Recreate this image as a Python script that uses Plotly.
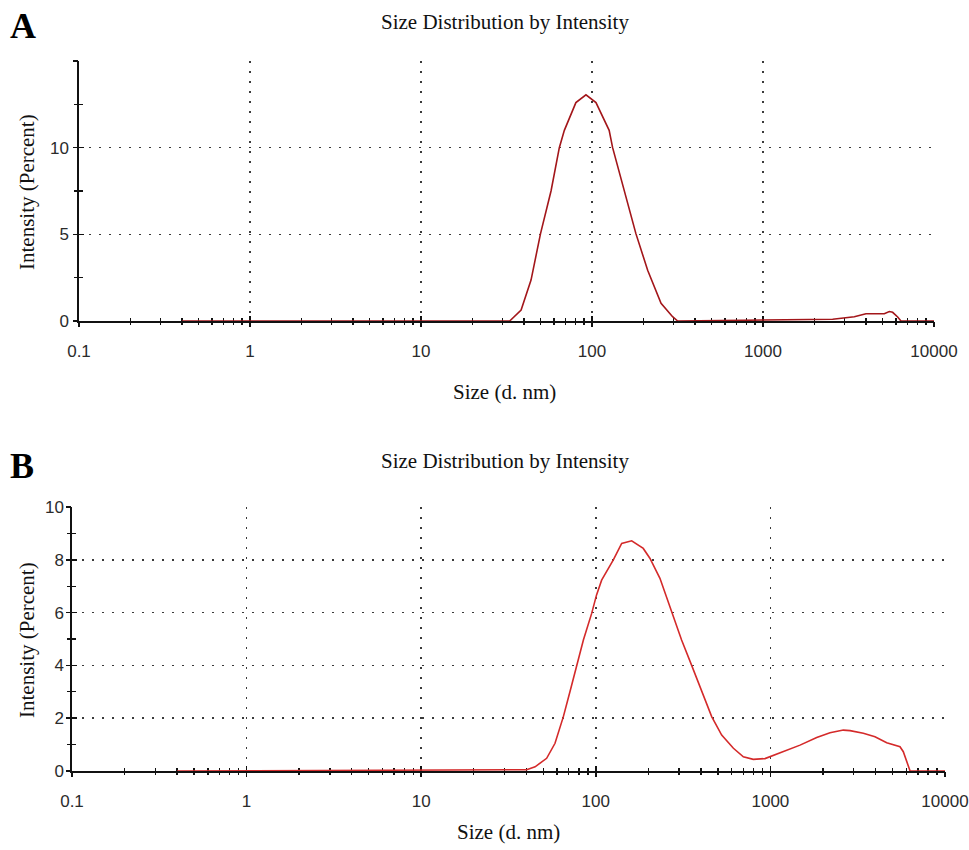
import plotly.graph_objects as go

# ---------------- Data ----------------
# Panel A: Size Distribution by Intensity (size in d.nm, intensity in %)
size_a = [0.4, 33, 38.5, 44, 50, 57.6, 64.4, 68.9, 80.5, 92.2, 105.5, 126, 132,
          154.6, 180.6, 211.6, 253.4, 296, 317, 2555, 3420, 4000, 5120, 5480,
          5730, 6130, 6410, 10000]
intensity_a = [0, 0, 0.63, 2.36, 5.04, 7.5, 10.0, 11.0, 12.6, 13.05, 12.6, 11.0, 10.0,
               7.5, 5.04, 2.93, 1.02, 0.25, 0, 0.1, 0.25, 0.42, 0.42, 0.55,
               0.5, 0.23, 0, 0]

# Panel B
size_b = [0.4, 40.2, 44.9, 52.3, 58.4, 65.2, 71.1, 77.7, 84.9, 94.7, 101, 108, 118,
          126, 140.7, 160.5, 187, 204, 233, 272, 310, 354, 404, 461, 526, 614,
          700, 798, 931, 1017, 1186, 1478, 1842, 2195, 2617, 2858, 3405, 3972,
          4636, 5525, 5771, 6036, 6310, 10000]
intensity_b = [0, 0.05, 0.16, 0.48, 1.05, 2.06, 3.0, 4.0, 4.96, 5.97, 6.67, 7.23, 7.68,
               8.0, 8.62, 8.72, 8.43, 8.06, 7.3, 6.03, 4.96, 4.0, 3.0, 2.06, 1.36, 0.86,
               0.54, 0.44, 0.47, 0.57, 0.73, 0.98, 1.27, 1.45, 1.55, 1.53, 1.43, 1.30,
               1.07, 0.92, 0.73, 0.35, 0, 0]

x_major = [0.1, 1, 10, 100, 1000, 10000]
x_major_text = ["0.1", "1", "10", "100", "1000", "10000"]
x_minor = [m * d for d in [0.1, 1, 10, 100, 1000] for m in range(2, 10)]

ya_major = [0, 5, 10, 15]
ya_major_text = ["0", "5", "10", ""]
ya_minor = [2.5, 7.5, 12.5]

yb_major = [0, 2, 4, 6, 8, 10]
yb_major_text = ["0", "2", "4", "6", "8", "10"]
yb_minor = [1, 3, 5, 7, 9]

panel_title = "Size Distribution by Intensity"
x_title = "Size (d. nm)"
y_title = "Intensity (Percent)"

# ---------------- Layout helpers ----------------
W, H = 969, 850
SERIF = "Liberation Serif, Times New Roman, serif"
SANS = "Liberation Sans, Arial, sans-serif"
GRID = dict(showgrid=True, gridcolor="#3a3a3a", gridwidth=1.6, griddash="2px,8px")


def px_x(p):
    return p / W


def px_y(p):
    return 1 - p / H


fig = go.Figure()

panels = [
    dict(key="a", xs=size_a, ys=intensity_a, color="#a3161a",
         xdom=[px_x(79), px_x(934)], ydom=[px_y(321), px_y(61)], yr=[0, 15],
         ymaj=ya_major, ymajt=ya_major_text, ymin=ya_minor, standx=14, standy=5,
         ax=("x", "y", "x3", "y3")),
    dict(key="b", xs=size_b, ys=intensity_b, color="#d42a2a",
         xdom=[px_x(72), px_x(945)], ydom=[px_y(771), px_y(507)], yr=[0, 10],
         ymaj=yb_major, ymajt=yb_major_text, ymin=yb_minor, standx=14, standy=3,
         ax=("x2", "y2", "x4", "y4")),
]

layout = {}
for p in panels:
    xm, ym, xo, yo = p["ax"]
    xm_name = "xaxis" if xm == "x" else "xaxis" + xm[1:]
    ym_name = "yaxis" if ym == "y" else "yaxis" + ym[1:]
    xo_name = "xaxis" + xo[1:]
    yo_name = "yaxis" + yo[1:]

    # curve on main axes
    fig.add_trace(go.Scatter(x=p["xs"], y=p["ys"], mode="lines",
                             line=dict(color=p["color"], width=1.6, shape="linear"),
                             xaxis=xm, yaxis=ym, showlegend=False, hoverinfo="skip",
                             cliponaxis=False))
    # same curve on overlay axes (invisible), so overlay axes get drawn
    fig.add_trace(go.Scatter(x=p["xs"], y=p["ys"], mode="lines",
                             line=dict(color="rgba(0,0,0,0)", width=0),
                             xaxis=xo, yaxis=yo, showlegend=False, hoverinfo="skip"))

    xr = [-1, 4]
    layout[xm_name] = dict(
        type="log", range=xr, domain=p["xdom"], anchor=ym, automargin=False,
        tickmode="array", tickvals=x_major, ticktext=x_major_text,
        ticks="inside", ticklen=5, tickwidth=1.5, tickcolor="#111",
        showline=True, linecolor="#111", linewidth=1.6, layer="below traces",
        tickfont=dict(family=SANS, size=17, color="#2b2b2b"),
        ticklabelstandoff=p["standx"],
        zeroline=False, **GRID,
        minor=dict(tickmode="array", tickvals=x_minor, ticks="inside", ticklen=3,
                   tickwidth=1.4, tickcolor="#111", showgrid=False),
        fixedrange=True,
    )
    layout[xo_name] = dict(
        type="log", range=xr, domain=p["xdom"], anchor=yo, overlaying=xm, automargin=False,
        tickmode="array", tickvals=x_major, showticklabels=False,
        ticks="outside", ticklen=5, tickwidth=1.5, tickcolor="#111",
        showline=False, showgrid=False, zeroline=False,
        minor=dict(tickmode="array", tickvals=x_minor, ticks="outside", ticklen=3,
                   tickwidth=1.4, tickcolor="#111", showgrid=False),
        fixedrange=True,
    )
    layout[ym_name] = dict(
        range=p["yr"], domain=p["ydom"], anchor=xm, automargin=False,
        tickmode="array", tickvals=p["ymaj"], ticktext=p["ymajt"],
        ticks="inside", ticklen=5, tickwidth=1.5, tickcolor="#111",
        showline=True, linecolor="#111", linewidth=1.6, layer="below traces",
        tickfont=dict(family=SANS, size=17, color="#2b2b2b"),
        ticklabelstandoff=p["standy"],
        zeroline=False, **GRID,
        minor=dict(tickmode="array", tickvals=p["ymin"], ticks="inside", ticklen=4,
                   tickwidth=1.4, tickcolor="#111", showgrid=False),
        fixedrange=True,
    )
    layout[yo_name] = dict(
        range=p["yr"], domain=p["ydom"], anchor=xo, overlaying=ym, side="left",
        automargin=False,
        tickmode="array", tickvals=p["ymaj"], showticklabels=False,
        ticks="outside", ticklen=5, tickwidth=1.5, tickcolor="#111",
        showline=False, showgrid=False, zeroline=False,
        minor=dict(tickmode="array", tickvals=p["ymin"], ticks="outside", ticklen=4,
                   tickwidth=1.4, tickcolor="#111", showgrid=False),
        fixedrange=True,
    )

annotations = [
    # panel letters
    dict(text="<b>A</b>", x=px_x(23), y=px_y(26), font=dict(family=SERIF, size=36, color="#000")),
    dict(text="<b>B</b>", x=px_x(22), y=px_y(466), font=dict(family=SERIF, size=36, color="#000")),
    # titles
    dict(text=panel_title, x=px_x(505), y=px_y(22), font=dict(family=SERIF, size=21, color="#111")),
    dict(text=panel_title, x=px_x(505), y=px_y(461), font=dict(family=SERIF, size=21, color="#111")),
    # x titles
    dict(text=x_title, x=px_x(504), y=px_y(392), font=dict(family=SERIF, size=21, color="#111")),
    dict(text=x_title, x=px_x(508), y=px_y(832), font=dict(family=SERIF, size=21, color="#111")),
    # y titles
    dict(text=y_title, x=px_x(27), y=px_y(192), textangle=-90, font=dict(family=SERIF, size=21, color="#111")),
    dict(text=y_title, x=px_x(27), y=px_y(640), textangle=-90, font=dict(family=SERIF, size=21, color="#111")),
]
for a in annotations:
    a.update(xref="paper", yref="paper", showarrow=False, xanchor="center", yanchor="middle")

fig.update_layout(
    width=W, height=H, margin=dict(l=0, r=0, t=0, b=0, autoexpand=False),
    paper_bgcolor="white", plot_bgcolor="white",
    annotations=annotations, showlegend=False, hovermode=False,
    **layout,
)

fig.write_html(
    "out.html",
    config={"displayModeBar": False, "staticPlot": True},
    post_script="document.body.style.margin='0';document.body.style.padding='0';"
                "document.body.style.overflow='hidden';",
)
